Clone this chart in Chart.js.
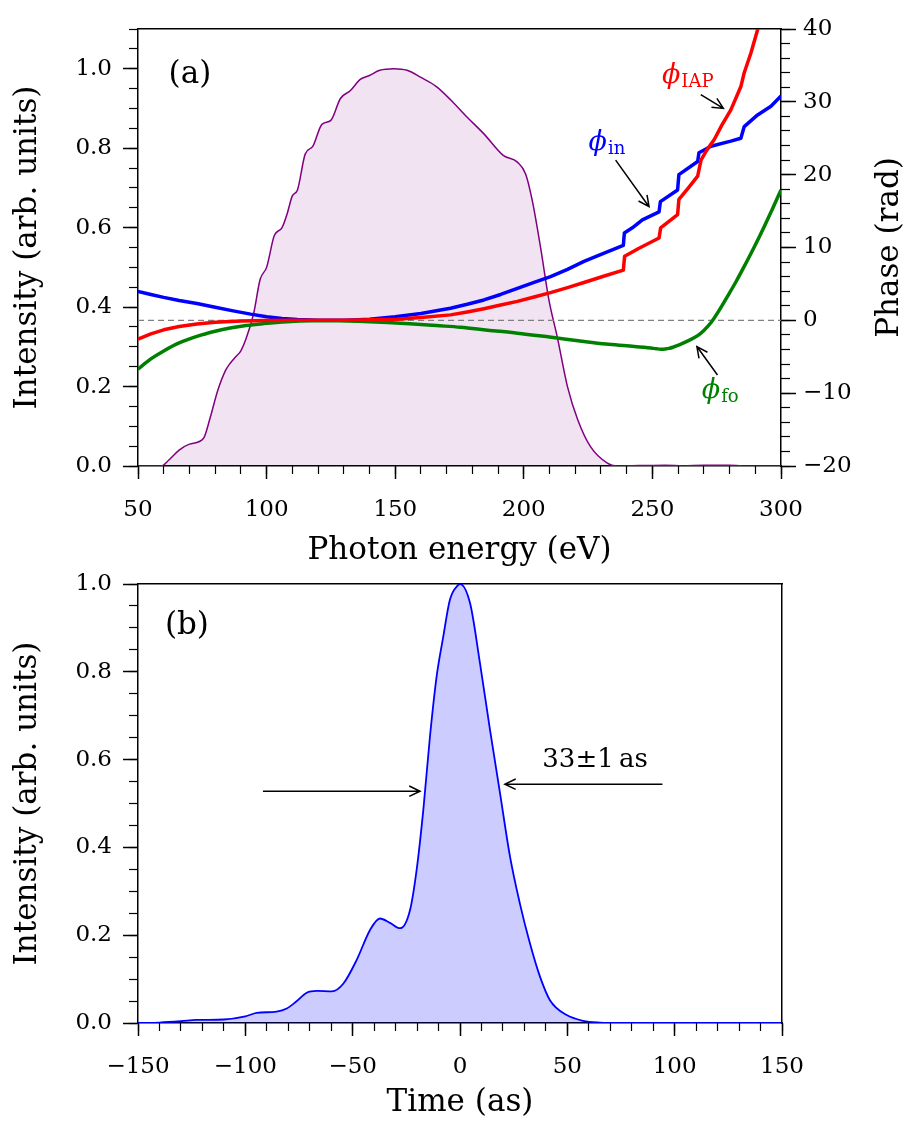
<!DOCTYPE html>
<html>
<head>
<meta charset="utf-8">
<script src="https://cdn.jsdelivr.net/npm/chart.js@4.4.1/dist/chart.umd.min.js"></script>
<style>
html, body { margin: 0; padding: 0; background: #ffffff; }
#wrap { position: relative; width: 918px; height: 1126px; overflow: hidden; background: #ffffff; }
canvas { position: absolute; left: 0; }
#chartA { top: 0; }
#chartB { top: 556px; }
</style>
</head>
<body>
<div id="wrap">
  <canvas id="chartB" width="918" height="570"></canvas>
  <canvas id="chartA" width="918" height="580"></canvas>
</div>
<script>
// ---------- Panel (a): spectrum (left axis) ----------
const spectrumEnergy = [50,55,59,62,66,70,75.5,78,81,84,86,88,90,92,95,97.5,100,103,106,108,110,112,115,118,121.5,125,128.7,132.6,136.4,140,144,149.5,154.6,160,166,171.5,178,184.5,192,197.5,200.7,203.3,206.5,209.8,213,217,221,226,232.5,236,245,255,262,270,280,285,300];
const spectrumIntensity = [0,0,0,0.015,0.04,0.055,0.07,0.12,0.19,0.24,0.26,0.275,0.29,0.32,0.385,0.47,0.5,0.58,0.6,0.635,0.68,0.695,0.785,0.805,0.86,0.87,0.925,0.945,0.973,0.983,0.996,1.0,0.996,0.978,0.955,0.922,0.878,0.836,0.782,0.765,0.735,0.668,0.551,0.417,0.325,0.199,0.116,0.048,0.007,0,0.001,0.002,0,0.002,0.002,0,0];

// ---------- Panel (a): phases (right axis, rad) ----------
const phiInEnergy = [50,55,60,66,72.9,80,87,93.8,100,106,112,120,131,140,150,160,171.5,178,184.5,191,197.5,204,210.4,217,223.4,231,238.7,239.1,242.2,246.1,252.6,253.1,259.8,260.3,267.6,268.1,272.8,280.5,284.4,285.7,290.9,296.1,300];
const phiIn = [3.96,3.55,3.15,2.72,2.3,1.8,1.3,0.85,0.5,0.25,0.1,0.02,0,0.15,0.5,0.95,1.67,2.2,2.8,3.55,4.4,5.2,6.0,7.0,8.1,9.2,10.3,12.0,12.7,13.8,14.9,16.3,17.9,20.0,21.8,23.0,23.9,24.6,25.0,26.6,28.2,29.4,30.8];

const phiIapEnergy = [50,55,60,66,72.9,80,90,100,110,130,150.6,160,171.5,178,184.5,191,197.5,204,210.4,217,223.4,231,238.7,239.2,244.8,252.6,253.2,259.8,260.3,264,267.6,268.9,271,274,277,280.5,284.4,285.7,288.3,290.9,294,297];
const phiIap = [-2.58,-1.85,-1.3,-0.85,-0.5,-0.25,-0.08,-0.02,0,0.02,0.16,0.4,0.75,1.15,1.6,2.1,2.6,3.2,3.8,4.5,5.2,6.05,6.9,8.8,9.9,11.3,12.7,14.5,16.6,18.2,19.8,22.0,23.3,24.8,26.8,28.9,32.1,34.0,36.7,39.9,44,48];

const phiFoEnergy = [50,55,60,66,72.9,80,85.8,92,98.8,108,118,128,137.7,147,157.2,166,175.4,186,197.5,210,223.4,232,240,249.4,251.5,253.3,255,256.5,258,259.8,261.5,263.6,267.6,270.1,272.8,276,279.2,282.5,285.7,289.5,293.5,296.8,300];
const phiFo = [-6.7,-5.3,-4.2,-3.1,-2.2,-1.5,-1.05,-0.7,-0.45,-0.2,-0.07,-0.05,-0.15,-0.3,-0.5,-0.72,-0.95,-1.35,-1.76,-2.3,-2.9,-3.25,-3.5,-3.8,-3.9,-3.96,-3.93,-3.85,-3.7,-3.45,-3.2,-2.85,-2.1,-1.35,-0.3,1.4,3.3,5.3,7.4,10.0,12.9,15.4,17.9];

const zeroLineEnergy = [50, 300];
const zeroLinePhase = [0, 0];

// ---------- Panel (b): temporal intensity ----------
const pulseTime = [-150,-140,-130,-122.6,-110,-100,-94.7,-85.4,-80.7,-76,-71.4,-66.7,-59.7,-54.3,-48.1,-41.9,-37.3,-32.6,-27.9,-23.3,-20.2,-17.1,-14,-10.9,-7.8,-4.7,-0.8,0,4.7,9.3,14,18.6,23.3,27.9,32.6,37.3,41.9,49.7,57.4,65.2,75,150];
const pulseIntensity = [0,0.001,0.004,0.007,0.008,0.015,0.023,0.026,0.033,0.05,0.069,0.073,0.072,0.09,0.144,0.212,0.238,0.228,0.216,0.257,0.349,0.485,0.652,0.789,0.88,0.964,0.998,1.0,0.956,0.82,0.667,0.525,0.379,0.272,0.181,0.105,0.052,0.018,0.005,0.001,0,0];

// ---------- Tick labels ----------
const energyTicks = [50,100,150,200,250,300];
const energyTickLabels = ['50','100','150','200','250','300'];
const intensityTicks = [0,0.2,0.4,0.6,0.8,1.0];
const intensityTickLabels = ['0.0','0.2','0.4','0.6','0.8','1.0'];
const phaseTicks = [-20,-10,0,10,20,30,40];
const phaseTickLabels = ['\u221220','\u221210','0','10','20','30','40'];
const timeTicks = [-150,-100,-50,0,50,100,150];
const timeTickLabels = ['\u2212150','\u2212100','\u221250','0','50','100','150'];

// ---------- Annotations (data coordinates) ----------
const annotationsA = [
  {kind:'text', text:'(a)', x:70.2, y:0.985, xAxis:'x', yAxis:'y', size:31, color:'#000000'},
  {kind:'phi', sub:'IAP', x:253.7, y:32.55, xAxis:'x', yAxis:'y2', color:'#ff0000'},
  {kind:'arrow', x1:268.8, y1:31.0, x2:277.6, y2:29.1, xAxis:'x', yAxis:'y2'},
  {kind:'phi', sub:'in', x:225.2, y:23.42, xAxis:'x', yAxis:'y2', color:'#0000ff'},
  {kind:'arrow', x1:235.7, y1:22.0, x2:248.7, y2:15.6, xAxis:'x', yAxis:'y2'},
  {kind:'phi', sub:'fo', x:269.2, y:-10.65, xAxis:'x', yAxis:'y2', color:'#008000'},
  {kind:'arrow', x1:275.3, y1:-7.5, x2:267.3, y2:-3.6, xAxis:'x', yAxis:'y2'},
  {kind:'axisTitle', text:'Phase (rad)', axis:'y2', size:31}
];
const annotationsB = [
  {kind:'text', text:'(b)', x:-127.2, y:0.904, xAxis:'x', yAxis:'y', size:31, color:'#000000'},
  {kind:'text', text:'33\u00B11\u2009as', x:62.9, y:0.583, xAxis:'x', yAxis:'y', size:26, color:'#000000', baseline:'alphabetic'},
  {kind:'arrow', x1:-91.8, y1:0.528, x2:-18.6, y2:0.528, xAxis:'x', yAxis:'y'},
  {kind:'arrow', x1:94.3, y1:0.544, x2:20.9, y2:0.544, xAxis:'x', yAxis:'y'}
];

// ---------- Helpers ----------
const FONT = "'DejaVu Serif', 'Liberation Serif', serif";
Chart.defaults.font.family = FONT;
Chart.defaults.color = '#000000';
const TICK_FONT = {family: FONT, size: 23};
const TITLE_FONT = {family: FONT, size: 31};

function toXY(xs, ys) { return xs.map((x, i) => ({x: x, y: ys[i]})); }
function fixedTicks(values) { return s => { s.ticks = values.map(v => ({value: v})); }; }
function fixSize(size) { return s => { if (s.isHorizontal()) s.height = size; else s.width = size; }; }

function majorScale(o) {
  return {
    type: 'linear', position: o.position, min: o.min, max: o.max, weight: 1,
    afterBuildTicks: fixedTicks(o.ticks),
    afterFit: fixSize(o.size),
    ticks: { autoSkip: false, maxRotation: 0, minRotation: 0, font: TICK_FONT, color: '#000000',
             padding: o.tickPad, callback: (v, i) => o.labels[i] },
    grid: { display: true, drawOnChartArea: false, drawTicks: true, tickLength: o.tickLen, tickWidth: 1.5, tickColor: '#000000' },
    border: { display: true, color: '#000000', width: 1.5 },
    title: { display: !!o.title, text: o.title || '', font: TITLE_FONT, color: '#000000', padding: o.titlePad || 0 }
  };
}
function minorScale(o) {
  return {
    type: 'linear', position: o.position, min: o.min, max: o.max, weight: 0,
    afterFit: fixSize(0),
    ticks: { display: false, stepSize: o.step },
    grid: { display: true, drawOnChartArea: false, drawTicks: true, tickLength: o.tickLen, tickWidth: 1.2, tickColor: '#000000' },
    border: { display: false }
  };
}
function frameScale(position, min, max, size) {
  return {
    type: 'linear', position: position, min: min, max: max, weight: 0,
    afterFit: fixSize(size),
    ticks: { display: false },
    grid: { display: false },
    border: { display: true, color: '#000000', width: 1.5 }
  };
}

function drawArrow(ctx, x1, y1, x2, y2) {
  const ang = Math.atan2(y2 - y1, x2 - x1);
  const L = 12, A = 0.45;
  ctx.beginPath();
  ctx.moveTo(x1, y1); ctx.lineTo(x2, y2);
  ctx.moveTo(x2 - L * Math.cos(ang - A), y2 - L * Math.sin(ang - A));
  ctx.lineTo(x2, y2);
  ctx.lineTo(x2 - L * Math.cos(ang + A), y2 - L * Math.sin(ang + A));
  ctx.stroke();
}

function makeAnnotPlugin(items) {
  return {
    id: 'annot',
    afterDatasetsDraw(chart) {
      const ctx = chart.ctx;
      ctx.save();
      for (const it of items) {
        if (it.kind === 'axisTitle') {
          const sc = chart.scales[it.axis];
          const lh = it.size * 1.2;
          ctx.save();
          ctx.translate(sc.right - 9 - lh / 2, (chart.chartArea.top + chart.chartArea.bottom) / 2);
          ctx.rotate(-Math.PI / 2);
          ctx.font = it.size + 'px ' + FONT;
          ctx.fillStyle = '#000000';
          ctx.textAlign = 'center';
          ctx.textBaseline = 'middle';
          ctx.fillText(it.text, 0, 0);
          ctx.restore();
          continue;
        }
        const xs = chart.scales[it.xAxis], ys = chart.scales[it.yAxis];
        if (it.kind === 'text') {
          ctx.font = it.size + 'px ' + FONT;
          ctx.fillStyle = it.color;
          ctx.textAlign = 'center';
          ctx.textBaseline = it.baseline || 'middle';
          ctx.fillText(it.text, xs.getPixelForValue(it.x), ys.getPixelForValue(it.y));
        } else if (it.kind === 'phi') {
          const px = xs.getPixelForValue(it.x), py = ys.getPixelForValue(it.y);
          ctx.fillStyle = it.color;
          ctx.textAlign = 'left';
          ctx.textBaseline = 'alphabetic';
          ctx.font = 'italic 27px ' + FONT;
          ctx.fillText('\u03D5', px, py);
          const w = ctx.measureText('\u03D5').width;
          ctx.font = '18px ' + FONT;
          ctx.fillText(it.sub, px + w + 1, py + 4);
        } else if (it.kind === 'arrow') {
          ctx.strokeStyle = '#000000';
          ctx.lineWidth = 1.5;
          drawArrow(ctx, xs.getPixelForValue(it.x1), ys.getPixelForValue(it.y1),
                         xs.getPixelForValue(it.x2), ys.getPixelForValue(it.y2));
        }
      }
      ctx.restore();
    }
  };
}

function lineDs(xs, ys, color, width, extra) {
  return Object.assign({
    data: toXY(xs, ys), borderColor: color, borderWidth: width, pointRadius: 0,
    fill: false, cubicInterpolationMode: 'monotone', borderJoinStyle: 'round'
  }, extra || {});
}

// ---------- Chart (a) ----------
new Chart(document.getElementById('chartA'), {
  type: 'line',
  data: {
    datasets: [
      lineDs(spectrumEnergy, spectrumIntensity, '#800080', 1.5,
             {xAxisID: 'x', yAxisID: 'y', fill: 'origin', backgroundColor: 'rgba(128,0,128,0.11)', order: 10}),
      lineDs(zeroLineEnergy, zeroLinePhase, '#808080', 1.3,
             {xAxisID: 'x', yAxisID: 'y2', borderDash: [6, 4], cubicInterpolationMode: 'default', order: 9}),
      lineDs(phiFoEnergy, phiFo, '#008000', 3.5, {xAxisID: 'x', yAxisID: 'y2', order: 4}),
      lineDs(phiInEnergy, phiIn, '#0000ff', 3.5, {xAxisID: 'x', yAxisID: 'y2', order: 3,
             cubicInterpolationMode: 'default', tension: 0}),
      lineDs(phiIapEnergy, phiIap, '#ff0000', 3.5, {xAxisID: 'x', yAxisID: 'y2', order: 2,
             cubicInterpolationMode: 'default', tension: 0})
    ]
  },
  options: {
    responsive: false, animation: false, events: [],
    layout: { padding: { top: 29, left: 0, right: 0, bottom: 0 } },
    plugins: { legend: { display: false }, tooltip: { enabled: false } },
    scales: {
      x: majorScale({position: 'bottom', min: 50, max: 300, ticks: energyTicks, labels: energyTickLabels,
                     size: 114, title: 'Photon energy (eV)', titlePad: {top: 0, bottom: 10}, tickLen: 13, tickPad: 17}),
      xMinor: minorScale({position: 'bottom', min: 50, max: 300, step: 10, tickLen: 8}),
      xTop: frameScale('top', 50, 300, 0),
      y: majorScale({position: 'left', min: 0, max: 1.1, ticks: intensityTicks, labels: intensityTickLabels,
                     size: 138, title: 'Intensity (arb. units)', titlePad: {top: 9, bottom: 0}, tickLen: 15, tickPad: 11}),
      yMinor: minorScale({position: 'left', min: 0, max: 1.1, step: 0.05, tickLen: 9}),
      y2: majorScale({position: 'right', min: -20, max: 40, ticks: phaseTicks, labels: phaseTickLabels,
                      size: 137, title: '', tickLen: 15, tickPad: 7}),
      y2Minor: minorScale({position: 'right', min: -20, max: 40, step: 2, tickLen: 9})
    }
  },
  plugins: [makeAnnotPlugin(annotationsA)]
});

// ---------- Chart (b) ----------
new Chart(document.getElementById('chartB'), {
  type: 'line',
  data: {
    datasets: [
      lineDs(pulseTime, pulseIntensity, '#0000ff', 1.8,
             {xAxisID: 'x', yAxisID: 'y', fill: 'origin', backgroundColor: 'rgba(0,0,255,0.2)'})
    ]
  },
  options: {
    responsive: false, animation: false, events: [],
    layout: { padding: { top: 28, left: 0, right: 0, bottom: 0 } },
    plugins: { legend: { display: false }, tooltip: { enabled: false } },
    scales: {
      x: majorScale({position: 'bottom', min: -150, max: 150, ticks: timeTicks, labels: timeTickLabels,
                     size: 103, title: 'Time (as)', titlePad: {top: 0, bottom: 4}, tickLen: 13, tickPad: 17}),
      xMinor: minorScale({position: 'bottom', min: -150, max: 150, step: 10, tickLen: 8}),
      xTop: frameScale('top', -150, 150, 0),
      y: majorScale({position: 'left', min: 0, max: 1.0, ticks: intensityTicks, labels: intensityTickLabels,
                     size: 138, title: 'Intensity (arb. units)', titlePad: {top: 9, bottom: 0}, tickLen: 15, tickPad: 11}),
      yMinor: minorScale({position: 'left', min: 0, max: 1.0, step: 0.05, tickLen: 9}),
      yRight: frameScale('right', 0, 1.0, 136)
    }
  },
  plugins: [makeAnnotPlugin(annotationsB)]
});
</script>
</body>
</html>
